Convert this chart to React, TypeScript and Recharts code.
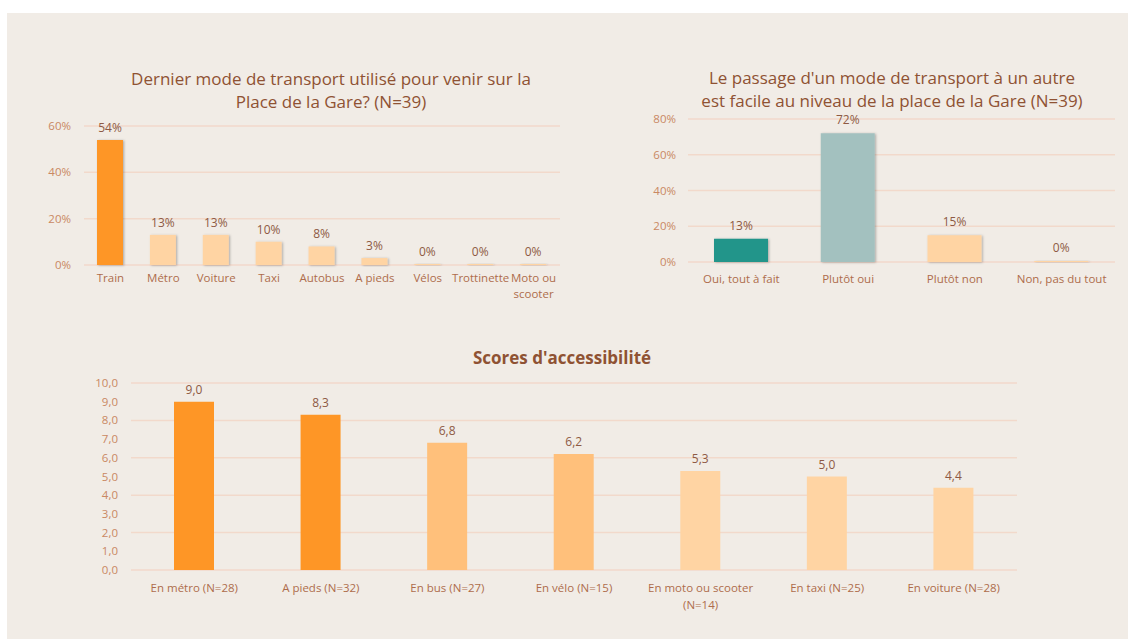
import React from 'react';
import { BarChart, Bar, XAxis, YAxis, CartesianGrid, Cell, LabelList } from 'recharts';

// Chart 1 - dernier mode de transport
const modeCategories = ['Train', 'Métro', 'Voiture', 'Taxi', 'Autobus', 'A pieds', 'Vélos', 'Trottinette', 'Moto ou\nscooter'];
const modeValues = [54, 13, 13, 10, 8, 3, 0, 0, 0];
const modeTicks = [0, 20, 40, 60];

// Chart 2 - passage d'un mode à un autre
const passageCategories = ['Oui, tout à fait', 'Plutôt oui', 'Plutôt non', 'Non, pas du tout'];
const passageValues = [13, 72, 15, 0];
const passageTicks = [0, 20, 40, 60, 80];

// Chart 3 - scores d'accessibilité
const scoreCategories = ['En métro (N=28)', 'A pieds (N=32)', 'En bus (N=27)', 'En vélo (N=15)', 'En moto ou scooter\n(N=14)', 'En taxi (N=25)', 'En voiture (N=28)'];
const scoreValues = [9.0, 8.3, 6.8, 6.2, 5.3, 5.0, 4.4];
const scoreTicks = [0, 1, 2, 3, 4, 5, 6, 7, 8, 9, 10];

const FONT = '"Open Sans", sans-serif';
const TITLE_COLOR = '#8F5233';
const VALUE_COLOR = '#8E5A44';
const YTICK_COLOR = '#C98863';
const XTICK_COLOR = '#AE6C4C';
const GRID_COLOR = '#F2D9CB';
const PANEL_BG = '#F1ECE6';

const ORANGE = '#FE9626';
const MID_ORANGE = '#FFC07B';
const PEACH = '#FFD4A3';

const modeColors = [ORANGE, PEACH, PEACH, PEACH, PEACH, PEACH, PEACH, PEACH, PEACH];
const passageColors = ['#21958A', '#A3C1BF', PEACH, PEACH];
const scoreColors = [ORANGE, ORANGE, MID_ORANGE, MID_ORANGE, PEACH, PEACH, PEACH];

const comma = (v: number) => v.toFixed(1).replace('.', ',');

const MultiLineTick = ({ x, y, payload, lineHeight, fontSize }: any) => {
  const lines = String(payload.value).split('\n');
  return (
    <text x={x} y={y} textAnchor="middle" fill={XTICK_COLOR} fontSize={fontSize} fontFamily={FONT}>
      {lines.map((l, i) => (
        <tspan key={i} x={x} dy={i === 0 ? '0.71em' : lineHeight}>{l}</tspan>
      ))}
    </text>
  );
};

const Shadow = ({ id }: { id: string }) => (
  <defs>
    <filter id={id} x="-20%" y="-20%" width="140%" height="140%">
      <feDropShadow dx="1.2" dy="0.5" stdDeviation="0.9" floodColor="#000" floodOpacity="0.28" />
    </filter>
  </defs>
);

const titleStyle: React.CSSProperties = {
  position: 'absolute',
  textAlign: 'center',
  fontFamily: FONT,
  fontSize: 17,
  lineHeight: '23px',
  color: TITLE_COLOR,
  whiteSpace: 'nowrap',
};

export default function App() {
  const modeData = modeCategories.map((name, i) => ({ name, value: modeValues[i] }));
  const passageData = passageCategories.map((name, i) => ({ name, value: passageValues[i] }));
  const scoreData = scoreCategories.map((name, i) => ({ name, value: scoreValues[i] }));

  return (
    <div style={{ position: 'absolute', left: 0, top: 0, width: 1128, height: 639, background: '#fff', overflow: 'hidden' }}>
      <div style={{ position: 'absolute', left: 7, top: 13, width: 1121, height: 626, background: PANEL_BG }} />

      <div style={{ ...titleStyle, left: 131, width: 400, top: 66.5 }}>
        Dernier mode de transport utilisé pour venir sur la<br />Place de la Gare? (N=39)
      </div>
      <div style={{ ...titleStyle, left: 692, width: 400, top: 65.5 }}>
        Le passage d'un mode de transport à un autre<br />est facile au niveau de la place de la Gare (N=39)
      </div>
      <div style={{ ...titleStyle, left: 412, width: 300, top: 346, fontWeight: 700 }}>
        Scores d'accessibilité
      </div>

      {/* Chart 1 */}
      <div style={{ position: 'absolute', left: 0, top: 0 }}>
        <BarChart width={580} height={310} data={modeData} margin={{ top: 126, right: 20, bottom: 5, left: 44 }}>
          <Shadow id="sh1" />
          <CartesianGrid vertical={false} stroke={GRID_COLOR} strokeWidth={1.5} />
          <XAxis
            dataKey="name"
            axisLine={false}
            tickLine={false}
            tickSize={0}
            tickMargin={9}
            height={40}
            interval={0}
            tick={<MultiLineTick lineHeight={16} fontSize={11.5} />}
          />
          <YAxis
            width={40}
            domain={[0, 60]}
            ticks={modeTicks}
            axisLine={false}
            tickLine={false}
            tickSize={0}
            tickMargin={13}
            tickFormatter={(v: number) => `${v}%`}
            tick={{ fill: YTICK_COLOR, fontSize: 11.5, fontFamily: FONT }}
          />
          <Bar dataKey="value" barSize={26} minPointSize={1} isAnimationActive={false}>
            {modeData.map((d, i) => (
              <Cell key={d.name} fill={modeColors[i]} filter="url(#sh1)" />
            ))}
            <LabelList dataKey="value" position="top" offset={8} formatter={(v: any) => `${v}%`} fill={VALUE_COLOR} fontSize={12} fontFamily={FONT} />
          </Bar>
        </BarChart>
      </div>

      {/* Chart 2 */}
      <div style={{ position: 'absolute', left: 580, top: 0 }}>
        <BarChart width={548} height={310} data={passageData} margin={{ top: 119, right: 13, bottom: 8, left: 68 }}>
          <Shadow id="sh2" />
          <CartesianGrid vertical={false} stroke={GRID_COLOR} strokeWidth={1.5} />
          <XAxis
            dataKey="name"
            axisLine={false}
            tickLine={false}
            tickSize={0}
            tickMargin={13}
            height={40}
            interval={0}
            tick={<MultiLineTick lineHeight={16} fontSize={11.5} />}
          />
          <YAxis
            width={40}
            domain={[0, 80]}
            ticks={passageTicks}
            axisLine={false}
            tickLine={false}
            tickSize={0}
            tickMargin={12}
            tickFormatter={(v: number) => `${v}%`}
            tick={{ fill: YTICK_COLOR, fontSize: 11.5, fontFamily: FONT }}
          />
          <Bar dataKey="value" barSize={54} minPointSize={1} isAnimationActive={false}>
            {passageData.map((d, i) => (
              <Cell key={d.name} fill={passageColors[i]} filter="url(#sh2)" />
            ))}
            <LabelList dataKey="value" position="top" offset={9} formatter={(v: any) => `${v}%`} fill={VALUE_COLOR} fontSize={12} fontFamily={FONT} />
          </Bar>
        </BarChart>
      </div>

      {/* Chart 3 */}
      <div style={{ position: 'absolute', left: 0, top: 330 }}>
        <BarChart width={1128} height={309} data={scoreData} margin={{ top: 53, right: 111, bottom: 24, left: 81 }}>
          <CartesianGrid vertical={false} stroke={GRID_COLOR} strokeWidth={1.5} />
          <XAxis
            dataKey="name"
            axisLine={false}
            tickLine={false}
            tickSize={0}
            tickMargin={14}
            height={45}
            interval={0}
            tick={<MultiLineTick lineHeight={17} fontSize={11.5} />}
          />
          <YAxis
            width={50}
            domain={[0, 10]}
            ticks={scoreTicks}
            axisLine={false}
            tickLine={false}
            tickSize={0}
            tickMargin={13}
            tickFormatter={comma}
            tick={{ fill: YTICK_COLOR, fontSize: 11.5, fontFamily: FONT }}
          />
          <Bar dataKey="value" barSize={40} isAnimationActive={false}>
            {scoreData.map((d, i) => (
              <Cell key={d.name} fill={scoreColors[i]} />
            ))}
            <LabelList dataKey="value" position="top" offset={8} formatter={(v: any) => comma(Number(v))} fill={VALUE_COLOR} fontSize={12} fontFamily={FONT} />
          </Bar>
        </BarChart>
      </div>
    </div>
  );
}
